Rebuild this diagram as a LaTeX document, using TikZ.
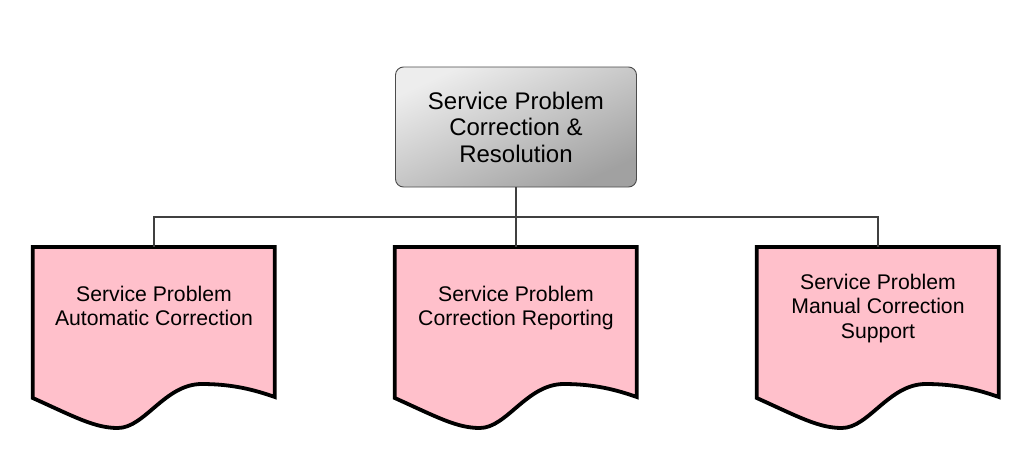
\documentclass[tikz,border=0pt]{standalone}
\usepackage{fontspec}
\setmainfont{Liberation Sans}
\usetikzlibrary{backgrounds}
\definecolor{docpink}{HTML}{FFC0CB}
\tikzset{
  topbox/.style={draw=black!70, line width=0.9pt, rounded corners=8pt,
    top color=black!7, bottom color=black!37, shading angle=25,
    minimum width=241pt, minimum height=120pt, align=center,
    font=\fontsize{24}{26.5}\selectfont, inner sep=0pt},
  docbox/.style={minimum width=242pt, minimum height=118pt, align=center,
    font=\fontsize{21.2}{24.2}\selectfont, inner sep=0pt, anchor=north,
    text depth=0pt},
  docline/.style={draw=black, fill=docpink, line width=3.8pt, line join=miter},
  conn/.style={draw=black!75, line width=1.2pt}
}
\newcommand{\docoutline}[1]{%
  \begin{scope}[shift={(#1.north west)}]
    \path[docline] (0,0) -- (242,0) -- (242,150)
      .. controls (222,143) and (200,137) .. (169,137)
      .. controls (132,137) and (112,181) .. (85,181)
      .. controls (62,181) and (42,170) .. (0,151) -- cycle;
  \end{scope}}
\begin{document}
\begin{tikzpicture}[x=1pt, y=-1pt]
  \useasboundingbox (0,0) rectangle (1031,461);
  \node[topbox] (top) at (516,127) {Service Problem\\Correction \&\\Resolution};
  \node[docbox] (d1) at (154,247) {Service Problem\\Automatic Correction};
  \node[docbox] (d2) at (516,247) {Service Problem\\Correction Reporting};
  \node[docbox] (d3) at (878,247) {Service Problem\\Manual Correction\\Support};
  \begin{scope}[on background layer]
    \fill[white] (0,0) rectangle (1031,461);
    \docoutline{d1}
    \docoutline{d2}
    \docoutline{d3}
  \end{scope}
  \coordinate (bus) at (516,217);
  \draw[conn] (top.south) -- (bus);
  \draw[conn] (bus) -- (d2.north);
  \draw[conn] (bus) -| (d1.north);
  \draw[conn] (bus) -| (d3.north);
\end{tikzpicture}
\end{document}
